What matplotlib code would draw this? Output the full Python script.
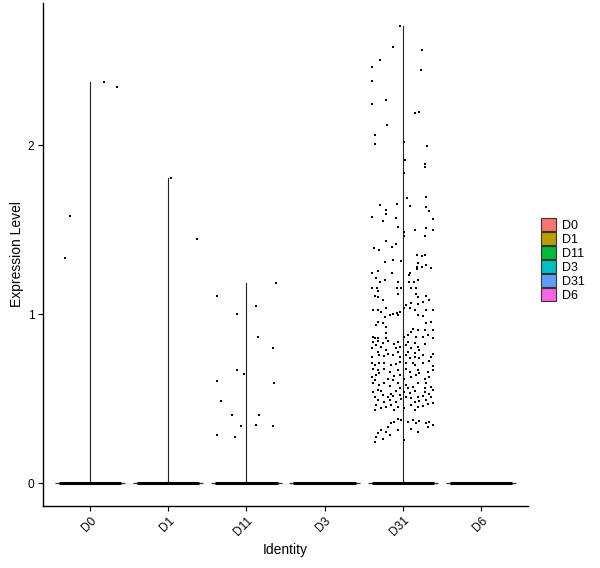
import matplotlib
matplotlib.use("Agg")
import matplotlib.pyplot as plt
from matplotlib.patches import Patch

plt.rcParams['font.family'] = ['Liberation Sans', 'DejaVu Sans']

identities = ['D0', 'D1', 'D11', 'D3', 'D31', 'D6']
colours = ['#F8766D', '#B79F00', '#00BA38', '#00BFC4', '#619CFF', '#F564E3']

# non-zero cells per identity (value, horizontal jitter)
d0_values = [1.33, 1.58, 2.376, 2.346]
d0_jitter = [-0.32, -0.26, 0.18, 0.35]

d1_values = [1.807, 1.446]
d1_jitter = [0.03, 0.37]

d11_values = [1.109, 0.998, 1.051, 1.187, 0.865, 0.800, 0.605, 0.670, 0.648,
              0.594, 0.487, 0.406, 0.406, 0.339, 0.345, 0.339, 0.285, 0.275]
d11_jitter = [-0.37, -0.12, 0.12, 0.38, 0.15, 0.34, -0.37, -0.12, -0.03,
              0.35, -0.32, -0.19, 0.16, -0.07, 0.12, 0.34, -0.38, -0.14]

d3_values = []
d3_jitter = []

d31_values = [
    # > 2
    2.706, 2.582, 2.562, 2.503, 2.462, 2.444, 2.379, 2.266, 2.243, 2.195, 2.191, 2.118, 2.059,
    # 1.5 - 2
    2.006, 2.020, 1.994, 1.911, 1.888, 1.872, 1.834, 1.686, 1.692, 1.645, 1.651, 1.639,
    1.633, 1.615, 1.609, 1.594, 1.574, 1.568, 1.562, 1.552, 1.515, 1.509, 1.499, 1.499,
    # 1.15 - 1.5
    1.487, 1.463, 1.463, 1.434, 1.416, 1.392, 1.380, 1.398, 1.351, 1.345, 1.351, 1.309,
    1.321, 1.315, 1.302, 1.292, 1.280, 1.280, 1.274, 1.268, 1.256, 1.244, 1.244, 1.244,
    1.233, 1.215, 1.203, 1.191, 1.189, 1.191, 1.191, 1.201, 1.156, 1.154, 1.156, 1.156,
    1.156, 1.152,
    # 0.85 - 1.15
    1.136, 1.106, 1.099, 1.083, 1.118, 1.122, 1.103, 1.106, 1.063, 1.059, 1.073, 1.083,
    1.053, 1.024, 1.024, 1.014, 1.034, 1.034, 1.034, 1.024, 1.024, 1.024, 0.994, 1.000,
    1.004, 1.014, 0.994, 0.984, 0.994, 0.988, 0.955, 0.935, 0.945, 0.925, 0.945, 0.955,
    0.915, 0.909, 0.909, 0.895, 0.876, 0.866, 0.866, 0.856, 0.856, 0.886, 0.856, 0.866,
    0.866, 0.876, 0.905, 0.856,
    # 0.55 - 0.85
    0.836, 0.840, 0.830, 0.840, 0.836, 0.836, 0.830, 0.816, 0.822, 0.816, 0.826, 0.797,
    0.803, 0.787, 0.797, 0.807, 0.797, 0.803, 0.777, 0.767, 0.777, 0.777, 0.771, 0.787,
    0.757, 0.747, 0.757, 0.751, 0.757, 0.747, 0.757, 0.738, 0.747, 0.738, 0.747, 0.767,
    0.708, 0.698, 0.708, 0.712, 0.698, 0.704, 0.718, 0.708, 0.712, 0.698, 0.708, 0.724,
    0.692, 0.678, 0.668, 0.678, 0.659, 0.672, 0.678, 0.659, 0.668, 0.649, 0.659, 0.668,
    0.649, 0.629, 0.639, 0.619, 0.633, 0.639, 0.619, 0.629, 0.639, 0.619, 0.629, 0.609,
    0.609, 0.590, 0.580, 0.594, 0.574, 0.590, 0.560, 0.580, 0.560, 0.570, 0.590, 0.594,
    0.570, 0.554, 0.554, 0.560,
    # 0.24 - 0.55
    0.540, 0.544, 0.530, 0.544, 0.540, 0.534, 0.544, 0.540, 0.526, 0.511, 0.520, 0.507,
    0.514, 0.520, 0.511, 0.501, 0.507, 0.514, 0.511, 0.491, 0.481, 0.491, 0.481, 0.495,
    0.481, 0.487, 0.491, 0.475, 0.461, 0.442, 0.451, 0.461, 0.451, 0.442, 0.461, 0.451,
    0.455, 0.467, 0.432, 0.432, 0.432, 0.382, 0.363, 0.372, 0.363, 0.376, 0.353, 0.369,
    0.353, 0.363, 0.343, 0.353, 0.333, 0.313, 0.294, 0.303, 0.284, 0.313, 0.323, 0.303,
    0.333, 0.264, 0.274, 0.244, 0.254,
]
d31_jitter = [
    -0.03, -0.12, 0.25, -0.29, -0.39, 0.23, -0.39, -0.21, -0.39, 0.21, 0.16, -0.20, -0.36,
    -0.35, 0.01, 0.31, 0.03, 0.28, 0.28, 0.02, 0.05, 0.29, -0.29, -0.08, 0.09,
    0.30, -0.22, 0.33, -0.22, -0.39, -0.09, 0.39, -0.26, -0.06, 0.29, 0.16, 0.38,
    0.02, 0.01, 0.28, -0.21, -0.09, -0.37, -0.31, -0.14, 0.18, 0.24, 0.28, -0.23,
    -0.13, -0.02, 0.20, 0.30, 0.18, 0.25, 0.36, 0.18, -0.32, -0.39, -0.14, 0.09,
    0.08, -0.34, -0.23, -0.29, -0.06, 0.08, 0.14, 0.20, -0.39, -0.33, -0.08, -0.02,
    0.11, 0.17,
    -0.32, -0.36, -0.32, -0.26, -0.06, 0.17, 0.19, 0.30, 0.11, 0.19, 0.26, 0.34,
    0.04, -0.38, -0.32, -0.28, -0.21, 0.02, 0.09, 0.15, 0.30, 0.39, -0.17, -0.13,
    -0.08, -0.04, -0.06, -0.23, 0.19, 0.26, -0.32, -0.34, -0.26, -0.21, 0.30, 0.36,
    0.13, 0.19, 0.28, 0.11, 0.06, 0.02, -0.38, -0.36, -0.32, -0.21, -0.21, 0.17,
    0.26, 0.32, 0.39, 0.39,
    -0.385, -0.32, -0.26, -0.19, -0.06, 0.06, 0.15, -0.34, -0.11, 0.04, 0.28, -0.39,
    -0.28, -0.21, -0.09, -0.04, 0.11, 0.19, -0.32, -0.19, -0.06, 0.06, 0.15, 0.21,
    0.26, -0.39, -0.30, -0.24, -0.13, -0.04, 0.04, 0.09, 0.15, 0.21, 0.36, 0.385,
    -0.39, -0.36, -0.30, -0.24, -0.15, -0.09, -0.04, 0.04, 0.13, 0.15, 0.26, 0.34,
    0.39, -0.385, -0.32, -0.24, -0.17, -0.06, 0.04, 0.09, 0.19, 0.21, 0.32, 0.39,
    -0.30, -0.39, -0.34, -0.19, -0.11, -0.04, 0.02, 0.11, 0.17, 0.28, 0.34, -0.36,
    -0.13, -0.385, -0.30, -0.24, -0.17, -0.06, -0.04, 0.04, 0.06, 0.13, 0.19, 0.30,
    0.36, 0.385, -0.32, 0.28,
    -0.385, -0.28, -0.15, -0.09, 0.02, 0.09, 0.15, 0.28, 0.34, -0.36, -0.26, -0.19,
    -0.13, -0.04, 0.04, 0.11, 0.19, 0.26, 0.36, -0.32, -0.24, -0.17, -0.09, -0.02,
    0.15, 0.21, 0.30, 0.385, -0.34, -0.28, -0.21, -0.15, -0.06, 0.02, 0.11, 0.19,
    0.26, 0.32, -0.36, -0.11, 0.15, -0.06, -0.11, -0.02, 0.06, 0.13, 0.17, 0.21,
    0.30, 0.34, 0.385, -0.15, -0.19, -0.28, -0.32, -0.21, -0.17, -0.06, 0.11, 0.19,
    0.32, -0.26, -0.34, -0.36, 0.02,
]

d6_values = []
d6_jitter = []

values = [d0_values, d1_values, d11_values, d3_values, d31_values, d6_values]
jitters = [d0_jitter, d1_jitter, d11_jitter, d3_jitter, d31_jitter, d6_jitter]

fig = plt.figure(figsize=(6, 5.68), dpi=100)
ax = fig.add_axes([0.0717, 0.1092, 0.8083, 0.8855])

for i, (vals, jit) in enumerate(zip(values, jitters)):
    # flat violin outline at zero (width 0.9) and the band of jittered zero cells
    ax.plot([i - 0.45, i + 0.45], [0, 0], color='#333333', lw=0.9,
            solid_capstyle='butt', zorder=2)
    ax.plot([i - 0.4, i + 0.4], [0, 0], color='black', lw=2.2,
            solid_capstyle='butt', zorder=3)
    if len(vals) > 0:
        ax.plot([i, i], [0, max(vals)], color='#222222', lw=0.8, zorder=2)
        ax.scatter([i + j for j in jit], vals, s=3.2, marker='s', color='black',
                   linewidths=0, zorder=3)

ymax = max(d31_values)
ax.set_xlim(-0.6, len(identities) - 0.4)
ax.set_ylim(-0.05 * ymax, 1.05 * ymax)
ax.set_xticks(range(len(identities)))
ax.set_xticklabels(identities, rotation=45, ha='right', va='top',
                   rotation_mode='anchor')
ax.set_yticks([0, 1, 2])

for side in ['top', 'right']:
    ax.spines[side].set_visible(False)
for side in ['left', 'bottom']:
    ax.spines[side].set_linewidth(1.0)
ax.tick_params(length=3.6, width=0.8, labelsize=8.6, colors='black', pad=2.5)

ax.set_xlabel('Identity', fontsize=10, labelpad=3)
ax.set_ylabel('Expression Level', fontsize=10, labelpad=3)

handles = [Patch(facecolor=c, edgecolor='#333333', linewidth=0.8, label=n)
           for n, c in zip(identities, colours)]
fig.legend(handles=handles, loc='center left', bbox_to_anchor=(0.902, 0.542),
           frameon=False, fontsize=9, handlelength=1.2, handleheight=1.2,
           handletextpad=0.45, labelspacing=0.03, borderpad=0, borderaxespad=0)

fig.savefig('out.png', dpi=100)
